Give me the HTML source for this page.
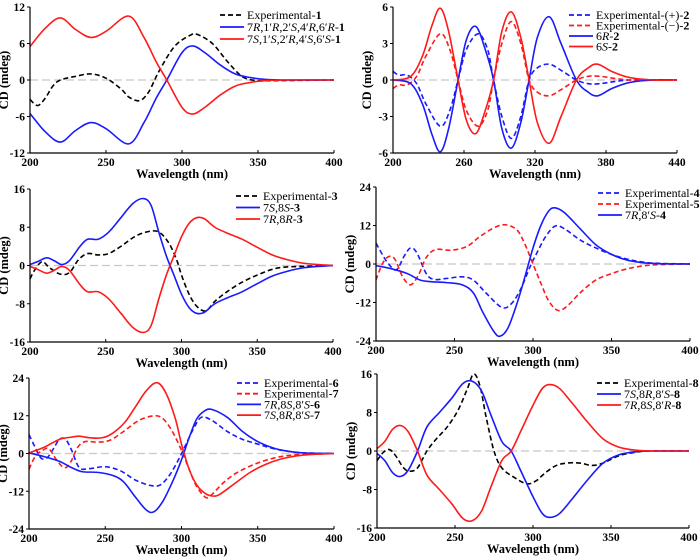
<!DOCTYPE html>
<html><head><meta charset="utf-8"><style>
html,body{margin:0;padding:0;background:#fff;}
svg{display:block;font-family:"Liberation Serif",serif;}
</style></head><body>
<svg id="fig" width="700" height="560" viewBox="0 0 700 560"></svg>
<script>
// ---------- Panel 1 ----------
const p1ExpWl=[200,205,210,215,220,230,240,250,260,265,272,278,285,295,305,310,320,330,340,350,360,400];
const p1ExpVal=[-3.2,-4.2,-3,-1,0,0.6,1,0.3,-1.5,-2.8,-3.4,-2,1.5,5.5,7.3,7.5,6,3,0.5,-0.1,-0.1,0];
const p1CalcWl=[200,210,220,230,240,250,265,275,283,290,300,307,315,325,335,345,355,370,400];
const p1BlueVal=[-5.5,-8.5,-10.2,-8.3,-7,-8,-10.5,-7,-3,0,4.5,5.6,4.5,2.5,1,0.4,0.1,0,0];
const p1RedVal=[5.5,8.5,10.2,8.3,7,8,10.5,7,3,0,-4.5,-5.6,-4.5,-2.5,-1,-0.4,-0.1,0,0];
// ---------- Panel 2 ----------
const p2CalcWl=[200,215,225,233,240,247,255,262,270,278,285,292,300,308,315,322,332,342,355,365,373,385,400,420,440];
const p2BlueVal=[0,-0.3,-2,-4.5,-5.9,-4,0,3.3,4.4,2.5,0,-4,-5.6,-3.5,0,3.5,5.2,3,0,-1,-1.3,-0.7,-0.2,0,0];
const p2RedVal=[0,0.3,2,4.5,5.9,4,0,-3.3,-4.4,-2.5,0,4,5.6,3.5,0,-3.5,-5.2,-3,0,1,1.3,0.7,0.2,0,0];
const p2ExpWl=[200,205,212,220,228,240,248,255,262,272,280,285,292,300,308,315,322,332,342,355,365,375,400,440];
const p2ExpPlusVal=[0.7,0.4,0.4,-0.3,-2,-3.8,-2.5,0,2.5,3.8,2.5,0,-3,-4.8,-3,0,1,1.3,0.8,0,-0.3,-0.3,0,0];
const p2ExpMinusVal=[-0.7,-0.4,-0.4,0.3,2,3.8,2.5,0,-2.5,-3.8,-2.5,0,3,4.8,3,0,-1,-1.3,-0.8,0,0.3,0.3,0,0];
// ---------- Panel 3 ----------
const p3CalcWl=[200,205,211,216,221,226,233,238,245,252,260,268,275,280,285,290,295,300,305,310,315,322,330,340,350,360,370,380,390,400];
const p3BlueVal=[0.2,0.8,1.6,1,0.2,1,4,5.5,5.5,7,10,13,14,12.5,7,2,-2,-6,-8.8,-10,-9.8,-8,-6.8,-5.5,-3.8,-2.2,-1.2,-0.5,-0.2,0];
const p3RedVal=[-0.2,-0.8,-1.6,-1,-0.2,-1,-4,-5.5,-5.5,-7,-10,-13,-14,-12.5,-7,-2,2,6,8.8,10,9.8,8,6.8,5.5,3.8,2.2,1.2,0.5,0.2,0];
const p3ExpWl=[200,203,208,213,220,226,232,238,245,252,260,270,280,286,292,297,300,305,310,316,322,330,340,350,360,370,400];
const p3ExpVal=[-2.8,-1,0.8,-0.5,-1.8,-1.5,1.2,2.5,2.2,2.5,4,6.2,7.2,6.8,4.5,1,-2,-6,-8.5,-9.5,-7.5,-5.5,-3.5,-2,-0.8,-0.3,0];
// ---------- Panel 4 ----------
const p4CalcWl=[200,210,220,228,235,245,255,262,268,275,279,284,290,296,300,305,310,314,320,330,340,350,360,370,380,400];
const p4CalcVal=[-0.5,-1.5,-3,-5,-5.5,-5.8,-6.5,-9,-15,-21,-22.5,-20,-12,-2,5,12,16.5,17.5,16,11,6,3,1.2,0.4,0.1,0];
const p4Exp4Wl=[200,204,208,213,218,222,226,232,237,245,255,262,270,280,286,292,298,302,308,314,320,330,340,350,360,370,380,400];
const p4Exp4Val=[6.5,3,0,-1.8,2.5,5,3.5,-3,-4.8,-4.5,-4,-5,-9,-13.5,-12.5,-8,-1,3,8.5,11.8,11,7.5,5,3,1.5,0.6,0.2,0];
const p4Exp5Wl=[200,204,208,212,217,222,227,232,238,248,258,266,276,283,290,295,300,305,310,316,322,330,340,350,360,370,380,400];
const p4Exp5Val=[-5,0,2.3,1.5,-4,-6.5,-3.5,2,4.5,4.3,5.5,8.5,11.5,12.2,10.5,6,0,-6,-11.5,-14.5,-13,-9,-5,-3,-1.5,-0.6,-0.2,0];
// ---------- Panel 5 ----------
const p5BlueWl=[200,210,220,228,235,245,255,262,270,277,282,288,295,300,305,310,315,320,330,340,350,360,370,380,400];
const p5BlueVal=[0.2,-1,-2.5,-4.5,-5.8,-6,-7,-9,-14,-18,-18.5,-15,-8,-2,5,11,13.5,14,11.5,7,3.8,1.8,0.7,0.2,0];
const p5RedWl=[200,210,220,228,233,240,248,255,263,270,277,284,290,296,300,305,310,315,320,325,335,345,355,365,375,385,400];
const p5RedVal=[0.2,2,4.5,5.2,5.5,5,5,6.5,10,15,20,22.5,19,11,3,-5,-10,-12.5,-13.5,-13,-9.5,-6,-3.5,-1.8,-0.8,-0.3,0];
const p5Exp6Wl=[200,204,208,212,216,220,224,228,233,240,250,260,270,280,286,292,298,303,308,313,320,330,340,350,360,370,380,400];
const p5Exp6Val=[6,2,-1.5,-1.3,1.5,4.5,4.5,1,-4.5,-4.8,-4.2,-5.5,-8.5,-10.2,-10,-7,-2,3,8,11.5,10.5,7,4.5,3,1.6,0.7,0.2,0];
const p5Exp7Wl=[200,204,209,213,218,223,227,232,237,245,253,262,272,282,288,294,300,305,310,316,320,327,335,345,355,365,375,385,400];
const p5Exp7Val=[-5,-1,1,1.5,-2,-4.5,-3,2,3.8,3.6,4.2,7,10.5,12,11,7,1,-5,-10.5,-14,-13,-9.5,-6.5,-4,-2.2,-1,-0.4,-0.2,0];
// ---------- Panel 6 ----------
const p6CalcWl=[200,205,210,215,220,226,232,240,248,255,261,267,273,280,286,292,300,306,311,317,325,335,345,355,365,375,400];
const p6BlueVal=[-0.5,-2,-4.5,-5.3,-4,0,5,8,11,14,14.5,12.5,7.5,2,0,-4,-9.5,-13,-13.8,-13,-10,-6,-2.5,-0.8,-0.2,0,0];
const p6RedVal=[0.5,2,4.5,5.3,4,0,-5,-8,-11,-14,-14.5,-12.5,-7.5,-2,0,4,9.5,13,13.8,13,10,6,2.5,0.8,0.2,0,0];
const p6ExpWl=[200,204,208,212,217,221,226,232,238,245,252,258,262,266,270,275,280,288,296,302,308,315,322,330,338,345,355,365,375,400];
const p6ExpVal=[-2,-0.3,0.3,-1,-3.5,-4.2,-3.5,0,2.5,5,8.5,13,16,13.5,7,0,-3.5,-5.5,-6.8,-6.2,-4.5,-3,-2.5,-2.5,-3,-2.5,-1,-0.3,0,0];
// tick label arrays
const xTicks200_400=[200,250,300,350,400];
const xTicks200_440=[200,260,320,380,440];
const yTicks12=[-12,-6,0,6,12];
const yTicks6=[-6,-3,0,3,6];
const yTicks16=[-16,-8,0,8,16];
const yTicks24=[-24,-12,0,12,24];

const NS="http://www.w3.org/2000/svg";
const svg=document.getElementById('fig');
const BLUE="#1a1aff",RED="#ff1a1a",BLACK="#000";
function mk(tag,attrs,parent){const e=document.createElementNS(NS,tag);for(const k in attrs)e.setAttribute(k,attrs[k]);(parent||svg).appendChild(e);return e;}
function smooth(pts){let d="M"+pts[0][0].toFixed(2)+","+pts[0][1].toFixed(2);
 for(let i=0;i<pts.length-1;i++){const p0=pts[i-1]||pts[i],p1=pts[i],p2=pts[i+1],p3=pts[i+2]||p2;
  const c1=[p1[0]+(p2[0]-p0[0])/6,p1[1]+(p2[1]-p0[1])/6],c2=[p2[0]-(p3[0]-p1[0])/6,p2[1]-(p3[1]-p1[1])/6];
  d+="C"+c1[0].toFixed(2)+","+c1[1].toFixed(2)+" "+c2[0].toFixed(2)+","+c2[1].toFixed(2)+" "+p2[0].toFixed(2)+","+p2[1].toFixed(2);}
 return d;}
function panel(cfg){
 const g=mk('g',{});
 
 
 const sx=v=>cfg.x0+(v-cfg.xmin)/(cfg.xmax-cfg.xmin)*(cfg.x1-cfg.x0);
 const sy=v=>cfg.y1-(v-cfg.ymin)/(cfg.ymax-cfg.ymin)*(cfg.y1-cfg.y0);
 const zl=mk('line',{x1:cfg.x0,x2:cfg.x1,y1:sy(0),y2:sy(0),stroke:"#c8c8c8","stroke-width":1.3,"stroke-dasharray":"8,4"},g);
 
 
 cfg.series.forEach(s=>{
  const pts=s.wl.map((w,i)=>[sx(w),sy(s.val[i])]);
  const p=mk('path',{d:smooth(pts),fill:"none",stroke:s.color,"stroke-width":1.6,"stroke-dasharray":s.dash?"5,3":"none"},g);
  
  
 });
 const ax=mk('path',{d:`M${cfg.x0},${cfg.y0}V${cfg.y1}H${cfg.x1}`,fill:"none",stroke:"#000","stroke-width":1.2},g);
 
 
 cfg.xt.forEach(t=>{
  mk('line',{x1:sx(t),x2:sx(t),y1:cfg.y1,y2:cfg.y1-3,stroke:"#000"},g);
  const tx=mk('text',{x:sx(t),y:cfg.y1+13,"text-anchor":"middle","font-size":11.5,"font-weight":"bold"},g);
  tx.textContent=t;
  
  
 });
 cfg.yt.forEach(t=>{
  mk('line',{x1:cfg.x0,x2:cfg.x0-3,y1:sy(t),y2:sy(t),stroke:"#000"},g);
  const tx=mk('text',{x:cfg.x0-5,y:sy(t)+4,"text-anchor":"end","font-size":11.5,"font-weight":"bold"},g);
  tx.textContent=t;
  
  
 });
 const xt=mk('text',{x:(cfg.x0+cfg.x1)/2,y:cfg.y1+25,"text-anchor":"middle","font-size":12.5,"font-weight":"bold"},g);
 xt.textContent="Wavelength (nm)";
 
 
 const yc=(cfg.y0+cfg.y1)/2,yx=cfg.x0-22;
 const yt=mk('text',{x:yx,y:yc,"text-anchor":"middle","font-size":12.5,"font-weight":"bold",transform:`rotate(-90 ${yx} ${yc})`},g);
 yt.textContent="CD (mdeg)";
 
 
 cfg.legend.forEach((L,i)=>{
  const y=cfg.ly+i*cfg.lstep;
  const lg=mk('g',{},g);
  
  
  mk('line',{x1:cfg.lx,x2:cfg.lx+24,y1:y,y2:y,stroke:L.color,"stroke-width":1.8,"stroke-dasharray":L.dash?"5,3":"none"},lg);
  const t=mk('text',{x:cfg.lx+27,y:y+4,"font-size":12},lg);
  t.innerHTML=L.html;
 });
}
const B=s=>`<tspan font-weight="bold">${s}</tspan>`, I=s=>`<tspan font-style="italic">${s}</tspan>`;
panel({name:'panel-1',x0:30,x1:334,y0:7,y1:153,xmin:200,xmax:400,ymin:-12,ymax:12,xt:xTicks200_400,yt:yTicks12,lx:220,ly:15,lstep:12,
 series:[{id:'exp-1',wl:p1ExpWl,val:p1ExpVal,color:BLACK,dash:1},{id:'calc-7R-1',wl:p1CalcWl,val:p1BlueVal,color:BLUE},{id:'calc-7S-1',wl:p1CalcWl,val:p1RedVal,color:RED}],
 legend:[{color:BLACK,dash:1,html:"Experimental-"+B("1")},{color:BLUE,html:"7"+I("R")+",1′"+I("R")+",2′"+I("S")+",4′"+I("R")+",6′"+I("R")+"-"+B("1")},{color:RED,html:"7"+I("S")+",1′"+I("S")+",2′"+I("R")+",4′"+I("S")+",6′"+I("S")+"-"+B("1")}]});
panel({name:'panel-2',x0:393,x1:677,y0:7,y1:153,xmin:200,xmax:440,ymin:-6,ymax:6,xt:xTicks200_440,yt:yTicks6,lx:569,ly:15,lstep:10.5,
 series:[{id:'exp-plus-2',wl:p2ExpWl,val:p2ExpPlusVal,color:BLUE,dash:1},{id:'exp-minus-2',wl:p2ExpWl,val:p2ExpMinusVal,color:RED,dash:1},{id:'calc-6R-2',wl:p2CalcWl,val:p2BlueVal,color:BLUE},{id:'calc-6S-2',wl:p2CalcWl,val:p2RedVal,color:RED}],
 legend:[{color:BLUE,dash:1,html:"Experimental-(+)-"+B("2")},{color:RED,dash:1,html:"Experimental-(−)-"+B("2")},{color:BLUE,html:"6"+I("R")+"-"+B("2")},{color:RED,html:"6"+I("S")+"-"+B("2")}]});
panel({name:'panel-3',x0:30,x1:333,y0:189,y1:342,xmin:200,xmax:400,ymin:-16,ymax:16,xt:xTicks200_400,yt:yTicks16,lx:236,ly:196,lstep:11.5,
 series:[{id:'exp-3',wl:p3ExpWl,val:p3ExpVal,color:BLACK,dash:1},{id:'calc-7S8S-3',wl:p3CalcWl,val:p3BlueVal,color:BLUE},{id:'calc-7R8R-3',wl:p3CalcWl,val:p3RedVal,color:RED}],
 legend:[{color:BLACK,dash:1,html:"Experimental-"+B("3")},{color:BLUE,html:"7"+I("S")+",8"+I("S")+"-"+B("3")},{color:RED,html:"7"+I("R")+",8"+I("R")+"-"+B("3")}]});
panel({name:'panel-4',x0:376,x1:690,y0:187,y1:341,xmin:200,xmax:400,ymin:-24,ymax:24,xt:xTicks200_400,yt:yTicks24,lx:598,ly:193,lstep:11,
 series:[{id:'exp-4',wl:p4Exp4Wl,val:p4Exp4Val,color:BLUE,dash:1},{id:'exp-5',wl:p4Exp5Wl,val:p4Exp5Val,color:RED,dash:1},{id:'calc-4',wl:p4CalcWl,val:p4CalcVal,color:BLUE}],
 legend:[{color:BLUE,dash:1,html:"Experimental-"+B("4")},{color:RED,dash:1,html:"Experimental-"+B("5")},{color:BLUE,html:"7"+I("R")+",8′"+I("S")+"-"+B("4")}]});
panel({name:'panel-5',x0:29,x1:334,y0:378,y1:529,xmin:200,xmax:400,ymin:-24,ymax:24,xt:xTicks200_400,yt:yTicks24,lx:237,ly:383,lstep:10.7,
 series:[{id:'exp-6',wl:p5Exp6Wl,val:p5Exp6Val,color:BLUE,dash:1},{id:'exp-7',wl:p5Exp7Wl,val:p5Exp7Val,color:RED,dash:1},{id:'calc-6',wl:p5BlueWl,val:p5BlueVal,color:BLUE},{id:'calc-7',wl:p5RedWl,val:p5RedVal,color:RED}],
 legend:[{color:BLUE,dash:1,html:"Experimental-"+B("6")},{color:RED,dash:1,html:"Experimental-"+B("7")},{color:BLUE,html:"7"+I("R")+",8"+I("S")+",8′"+I("S")+"-"+B("6")},{color:RED,html:"7"+I("S")+",8"+I("R")+",8′"+I("S")+"-"+B("7")}]});
panel({name:'panel-6',x0:377,x1:689,y0:374,y1:528,xmin:200,xmax:400,ymin:-16,ymax:16,xt:xTicks200_400,yt:yTicks16,lx:597,ly:383,lstep:11,
 series:[{id:'exp-8',wl:p6ExpWl,val:p6ExpVal,color:BLACK,dash:1},{id:'calc-7S-8',wl:p6CalcWl,val:p6BlueVal,color:BLUE},{id:'calc-7R-8',wl:p6CalcWl,val:p6RedVal,color:RED}],
 legend:[{color:BLACK,dash:1,html:"Experimental-"+B("8")},{color:BLUE,html:"7"+I("S")+",8"+I("R")+",8′"+I("S")+"-"+B("8")},{color:RED,html:"7"+I("R")+",8"+I("S")+",8′"+I("R")+"-"+B("8")}]});
</script>
</body></html>
